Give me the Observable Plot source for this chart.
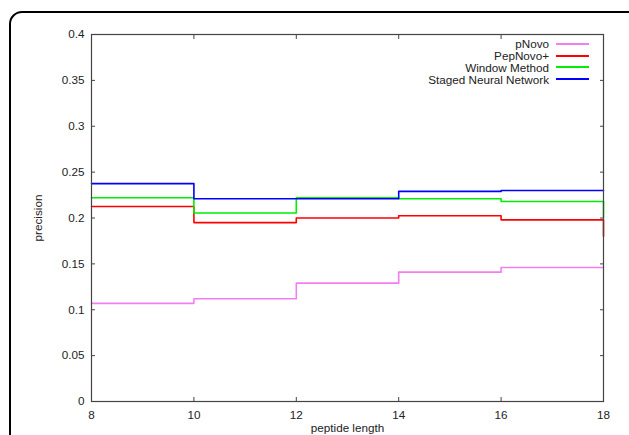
<!DOCTYPE html>
<html>
<head>
<meta charset="utf-8">
<script src="https://cdn.jsdelivr.net/npm/d3@7"></script>
<script src="https://cdn.jsdelivr.net/npm/@observablehq/plot@0.6"></script>
<style>
  html, body { margin: 0; padding: 0; background: #fff; }
  #wrap { position: relative; width: 629px; height: 435px; overflow: hidden; font-family: "Liberation Sans", Arial, sans-serif; }
  #border { position: absolute; left: 9px; top: 11px; width: 640px; height: 460px; border: 2px solid #000; border-radius: 13px; box-sizing: border-box; pointer-events: none; }
  #legend { position: absolute; right: 40px; top: 38px; font-size: 11.7px; color: #222; }
  .row { display: flex; justify-content: flex-end; align-items: center; height: 11.8px; }
  .sw { display: inline-block; width: 33px; height: 0; margin-left: 7px; border-top: 2px solid; }
</style>
</head>
<body>
<div id="wrap">
  <div id="chart"></div>
  <div id="legend"></div>
  <div id="border"></div>
</div>
<script>
const lengths = [8, 10, 12, 14, 16, 18];
const seriesNames = ["pNovo", "PepNovo+", "Window Method", "Staged Neural Network"];
const seriesColors = ["#f27ff2", "#ff0000", "#00ee00", "#0000ff"];
const pNovo = [0.107, 0.112, 0.129, 0.141, 0.146, 0.146];
const pepNovo = [0.2125, 0.195, 0.200, 0.2025, 0.198, 0.180];
const windowMethod = [0.222, 0.2055, 0.222, 0.221, 0.218, 0.2005];
const stagedNN = [0.2375, 0.221, 0.221, 0.229, 0.230, 0.230];
const yTicks = [0, 0.05, 0.1, 0.15, 0.2, 0.25, 0.3, 0.35, 0.4];
const xTicks = [8, 10, 12, 14, 16, 18];

const allSeries = [pNovo, pepNovo, windowMethod, stagedNN];
const data = [];
allSeries.forEach((vals, i) => vals.forEach((v, j) => data.push({series: seriesNames[i], x: lengths[j], y: v})));

const fmt = d => String(+(+d).toFixed(2));

const chart = Plot.plot({
  width: 629,
  height: 435,
  marginLeft: 91,
  marginRight: 26,
  marginTop: 34,
  marginBottom: 34,
  style: {fontFamily: "'Liberation Sans', Arial, sans-serif", fontSize: "11.7px", color: "#222", background: "transparent"},
  x: {domain: [8, 18]},
  y: {domain: [0, 0.4]},
  color: {domain: seriesNames, range: seriesColors},
  marks: [
    Plot.axisY(yTicks, {anchor: "left", tickSize: 0, tickPadding: 7, tickFormat: fmt, label: "precision", labelAnchor: "center", labelOffset: 58, labelArrow: "none"}),
    Plot.axisY(yTicks, {anchor: "left", tickSize: 4, dx: 4, text: null, label: null, stroke: "#444"}),
    Plot.axisY(yTicks, {anchor: "right", tickSize: 4, dx: -4, text: null, label: null, stroke: "#444"}),
    Plot.axisX(xTicks, {anchor: "bottom", tickSize: 0, tickPadding: 9, label: "peptide length", labelAnchor: "center", labelOffset: 30, labelArrow: "none"}),
    Plot.axisX(xTicks, {anchor: "bottom", tickSize: 4, dy: -4, text: null, label: null, stroke: "#444"}),
    Plot.axisX(xTicks, {anchor: "top", tickSize: 4, dy: 4, text: null, label: null, stroke: "#444"}),
    Plot.line(data, {x: "x", y: "y", z: "series", stroke: "series", curve: "step-after", strokeWidth: 1.6}),
    Plot.frame({stroke: "#444", strokeWidth: 1.2})
  ]
});
document.getElementById("chart").appendChild(chart);

const legend = document.getElementById("legend");
seriesNames.forEach((name, i) => {
  const row = document.createElement("div");
  row.className = "row";
  const t = document.createElement("span");
  t.textContent = name;
  const sw = document.createElement("span");
  sw.className = "sw";
  sw.style.borderTopColor = seriesColors[i];
  row.appendChild(t);
  row.appendChild(sw);
  legend.appendChild(row);
});
</script>
</body>
</html>
